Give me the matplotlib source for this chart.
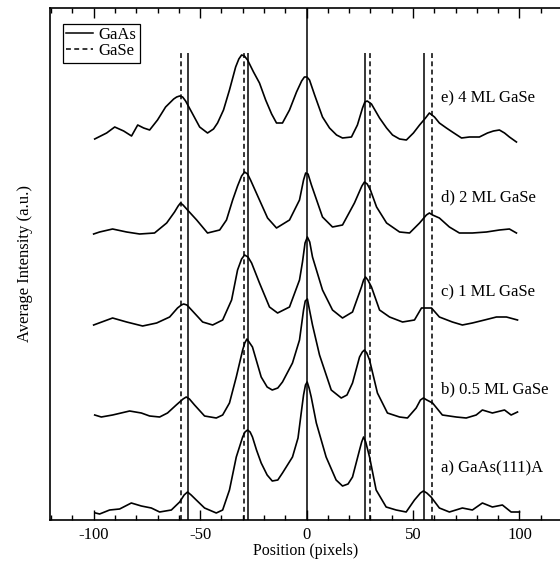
import matplotlib
matplotlib.use("Agg")
import matplotlib.pyplot as plt
from matplotlib.ticker import MultipleLocator

plt.rcParams['font.family'] = ['Liberation Serif', 'DejaVu Serif']
plt.rcParams['axes.unicode_minus'] = False

# peak positions (pixels)
gaas_pos = [-55.6, -27.6, 0.0, 27.6, 55.4]
gase_pos = [-58.9, -29.4, 29.6, 59.0]

# a) GaAs(111)A
a_x = [-99.1, -97.2, -92.5, -87.8, -82.3, -77.6, -72.9, -69.0, -63.5, -59.6, -57.5, -55.9,
       -54.2, -51.8, -47.9, -42.4, -39.4, -36.2, -33.0, -30.0, -28.9, -27.7, -26.5, -25.4,
       -23.5, -21.3, -18.5, -16.1, -13.5, -11.3, -6.6, -4.0, -2.5, -1.4, -0.5, 0.3,
       1.2, 2.2, 4.6, 9.2, 13.9, 16.9, 19.5, 21.6, 24.9, 25.9, 26.8, 27.8,
       29.6, 32.7, 37.4, 42.1, 46.8, 50.7, 53.5, 54.9, 56.5, 58.5, 62.4, 67.1,
       73.2, 77.9, 82.6, 87.3, 92.0, 96.1, 100.0]
a_y = [7, 6, 10, 11, 17, 14, 12, 8, 10, 18, 25, 28,
       25, 20, 12, 7, 10, 30, 63, 83, 88, 90, 88, 83,
       70, 57, 45, 39, 40, 47, 63, 82, 107, 125, 135, 138,
       132, 123, 97, 63, 40, 34, 36, 43, 70, 78, 83, 78,
       63, 30, 13, 10, 8, 20, 27, 29, 27, 23, 12, 8,
       12, 10, 17, 13, 15, 8, 8]

# b) 0.5 ML GaSe
b_x = [-99.5, -96.4, -91.1, -83.1, -77.6, -73.7, -69.0, -65.3, -61.2, -58.0, -56.5, -55.0,
       -52.6, -47.9, -42.4, -39.4, -36.2, -33.0, -30.0, -29.0, -28.0, -27.0, -25.4, -21.3,
       -18.5, -16.1, -13.5, -11.3, -6.6, -3.3, -1.4, -0.6, 0.4, 1.4, 2.8, 6.1,
       11.6, 16.3, 19.0, 21.6, 24.9, 26.2, 27.2, 28.3, 29.6, 33.3, 38.0, 43.7,
       47.4, 51.5, 53.5, 54.9, 56.5, 59.2, 63.8, 70.3, 75.0, 79.7, 82.6, 87.3,
       93.0, 96.1, 99.1]
b_y = [105, 103, 105, 109, 107, 104, 103, 107, 115, 121, 123, 121,
       115, 104, 102, 105, 117, 143, 170, 177, 181, 178, 173, 143,
       133, 130, 132, 138, 157, 180, 210, 219, 221, 210, 195, 165,
       130, 122, 125, 137, 163, 168, 170, 167, 160, 127, 107, 103,
       102, 112, 120, 122, 120, 117, 105, 103, 102, 105, 110, 107,
       110, 105, 108]

# c) 1 ML GaSe
c_x = [-100.0, -91.1, -84.5, -77.0, -70.4, -64.3, -60.6, -58.8, -57.7, -56.2, -54.0, -48.8,
       -44.1, -39.4, -35.2, -32.4, -30.5, -29.1, -27.5, -25.8, -22.1, -17.4, -13.6, -8.0,
       -3.3, -1.9, -0.7, 0.4, 1.5, 2.8, 7.5, 12.2, 16.9, 21.6, 25.8, 26.8,
       27.7, 28.8, 30.5, 34.3, 39.0, 45.1, 50.7, 54.0, 58.7, 62.4, 68.5, 73.2,
       77.9, 83.6, 89.2, 93.9, 99.1]
c_y = [195, 202, 198, 194, 197, 203, 212, 215, 216, 215, 210, 198,
       195, 200, 220, 250, 261, 265, 263, 257, 237, 213, 207, 213,
       240, 258, 277, 283, 278, 263, 230, 210, 202, 208, 233, 240,
       243, 240, 233, 210, 203, 198, 200, 212, 212, 203, 198, 195,
       197, 200, 203, 203, 200]

# d) 2 ML GaSe
d_x = [-100.0, -97.2, -91.1, -84.5, -78.4, -71.4, -65.7, -62.0, -60.3, -59.2, -58.0, -55.9,
       -51.6, -46.5, -40.8, -37.6, -34.7, -32.4, -30.5, -29.1, -27.7, -26.3, -22.1, -18.3,
       -14.1, -8.0, -3.3, -1.4, -0.4, 0.7, 2.3, 7.5, 12.2, 16.9, 22.5, 26.0,
       27.2, 28.5, 30.0, 32.9, 37.6, 43.7, 48.4, 53.1, 56.3, 57.7, 59.2, 62.4,
       67.1, 71.8, 77.9, 84.5, 90.6, 95.3, 98.6]
d_y = [286, 288, 291, 288, 286, 287, 297, 308, 314, 317, 315, 310,
       300, 287, 290, 300, 320, 334, 344, 348, 346, 340, 320, 302,
       292, 300, 320, 340, 347, 346, 335, 303, 293, 295, 317, 334,
       338, 336, 330, 313, 297, 288, 287, 297, 305, 307, 305, 302,
       293, 287, 287, 288, 290, 291, 287]

# e) 4 ML GaSe
e_x = [-99.5, -93.9, -90.1, -85.9, -82.2, -79.3, -76.5, -73.7, -70.0, -66.2, -62.4, -61.0,
       -59.6, -58.2, -56.8, -54.0, -50.2, -46.5, -43.7, -41.8, -39.0, -36.2, -33.3, -31.8,
       -30.5, -29.2, -27.7, -24.9, -22.1, -19.2, -16.4, -14.1, -11.3, -8.0, -4.7, -2.3,
       -1.0, 0.2, 1.4, 3.8, 7.5, 10.8, 14.1, 16.9, 21.1, 23.9, 26.3, 27.4,
       28.5, 30.5, 34.3, 37.6, 40.4, 43.7, 46.9, 50.2, 53.1, 55.9, 57.7, 60.1,
       62.4, 65.7, 68.5, 72.8, 76.5, 81.2, 85.0, 87.8, 90.6, 93.0, 95.3, 98.6]
e_y = [381, 387, 393, 389, 384, 395, 392, 390, 400, 413, 421, 423,
       424, 423, 419, 408, 393, 387, 391, 397, 410, 430, 453, 461,
       465, 464, 460, 448, 437, 420, 406, 397, 397, 410, 428, 439,
       443, 443, 440, 425, 403, 392, 385, 382, 383, 395, 412, 418,
       419, 416, 402, 392, 385, 381, 380, 387, 395, 402, 407, 403,
       397, 392, 388, 382, 383, 383, 387, 389, 390, 387, 383, 378]

curves = [(a_x, a_y), (b_x, b_y), (c_x, c_y), (d_x, d_y), (e_x, e_y)]
labels = ["a) GaAs(111)A", "b) 0.5 ML GaSe", "c) 1 ML GaSe", "d) 2 ML GaSe", "e) 4 ML GaSe"]
label_y = [52, 131, 228, 323, 422]

fig = plt.figure(figsize=(5.6, 5.61), dpi=100)
ax = fig.add_axes([50 / 560, 41 / 561, 512 / 560, 512 / 561])

for x, y in curves:
    ax.plot(x, y, color="black", lw=1.2, solid_joinstyle="round")

# reference lines
line_top = 467
dash = (0, (3.2, 2.2))
for p in gaas_pos:
    top = 512 if p == 0 else line_top
    ax.plot([p, p], [0, top], color="black", lw=1.1, solid_capstyle="butt")
for p in gase_pos:
    ax.plot([p, p], [0, line_top], color="black", lw=1.1, ls=dash)

for lab, ly in zip(labels, label_y):
    ax.text(63, ly, lab, fontsize=12, va="center", ha="left")

ax.plot([], [], color="black", lw=1.1, label="GaAs")
ax.plot([], [], color="black", lw=1.1, ls=dash, label="GaSe")
leg = ax.legend(loc="upper left", bbox_to_anchor=(0.025, 0.969), fontsize=12,
                frameon=True, fancybox=False, handlelength=1.6, handletextpad=0.35,
                borderpad=0.2, labelspacing=0.0, borderaxespad=0, framealpha=1)
leg.get_frame().set_edgecolor("black")
leg.get_frame().set_linewidth(0.9)

ax.set_xlim(-120.5, 120)
ax.set_ylim(0, 512)
ax.xaxis.set_major_locator(MultipleLocator(50))
ax.xaxis.set_minor_locator(MultipleLocator(10))
ax.tick_params(axis="x", which="both", direction="in", top=True, bottom=True,
               labelsize=12, width=1.0, pad=5)
ax.tick_params(axis="x", which="major", length=7)
ax.tick_params(axis="x", which="minor", length=3.5)
ax.set_yticks([])
for s in ax.spines.values():
    s.set_linewidth(1.2)

ax.set_xlabel("Position (pixels)", fontsize=11.5, labelpad=0)
ax.set_ylabel("Average Intensity (a.u.)", fontsize=12, labelpad=12)

fig.savefig("out.png", dpi=100)
